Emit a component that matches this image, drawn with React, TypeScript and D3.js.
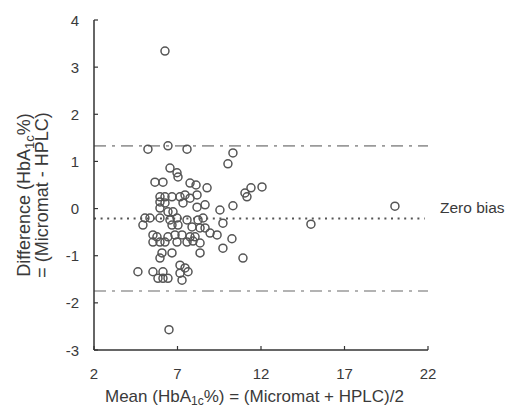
import React from "react";
import * as d3 from "d3";

// Bland–Altman data: mean of the two methods vs. their difference (HbA1c %)
const meanValues = [
  6.25, 5.23, 6.43, 7.57, 10.32, 10.02, 6.55, 6.97, 7.03, 5.65,
  6.13, 7.75, 8.11, 8.77, 5.95, 6.25, 6.67, 7.15, 7.45, 7.75,
  8.17, 5.95, 6.25, 7.33, 8.17, 8.65, 5.95, 6.43, 6.73, 5.05,
  5.35, 5.95, 6.55, 6.97, 7.57, 8.23, 8.53, 4.93, 6.67, 7.03,
  7.87, 8.35, 8.65, 5.53, 5.77, 6.43, 6.85, 7.27, 7.75, 8.05,
  5.53, 5.95, 6.25, 6.97, 7.57, 7.93, 8.35, 6.07, 6.67, 8.35,
  5.95, 4.63, 5.53, 6.13, 7.15, 7.45, 7.15, 7.63, 5.83, 6.13,
  6.43, 7.27, 6.49, 11.04, 11.16, 11.4, 12.06, 10.32, 9.54, 9.72,
  9.37, 10.26, 9.72, 10.92, 14.99, 20.02, 8.95,
];
const diffValues = [
  3.34, 1.26, 1.33, 1.26, 1.18, 0.95, 0.86, 0.76, 0.67, 0.56,
  0.56, 0.54, 0.5, 0.44, 0.25, 0.25, 0.25, 0.25, 0.29, 0.22,
  0.29, 0.14, 0.12, 0.12, 0.03, 0.08, 0.01, -0.07, -0.07, -0.2,
  -0.2, -0.2, -0.24, -0.2, -0.24, -0.24, -0.2, -0.35, -0.35, -0.35,
  -0.39, -0.41, -0.41, -0.56, -0.6, -0.6, -0.56, -0.56, -0.6, -0.6,
  -0.71, -0.71, -0.71, -0.71, -0.71, -0.69, -0.73, -0.94, -0.94, -0.94,
  -1.05, -1.34, -1.34, -1.34, -1.2, -1.26, -1.37, -1.34, -1.48, -1.48,
  -1.48, -1.52, -2.57, 0.33, 0.25, 0.44, 0.46, 0.06, -0.03, -0.31,
  -0.56, -0.64, -0.84, -1.05, -0.33, 0.05, -0.52,
];

const xTicks = [2, 7, 12, 17, 22];
const yTicks = [-3, -2, -1, 0, 1, 2, 3, 4];

const meanBias = -0.21;
const upperLimit = 1.33;
const lowerLimit = -1.75;

const W = 516;
const H = 407;
const FONT = "'Liberation Sans', Arial, Helvetica, sans-serif";
const TEXT = "#3a3a3a";

export default function App() {
  const x = d3.scaleLinear().domain([2, 22]).range([94, 428]);
  const y = d3.scaleLinear().domain([-3, 4]).range([350, 20]);
  const points = d3.zip(meanValues, diffValues);

  return (
    <svg
      width={W}
      height={H}
      style={{ position: "absolute", left: 0, top: 0, background: "#fff" }}
      fontFamily={FONT}
    >
      {/* limits of agreement */}
      {[upperLimit, lowerLimit].map((v) => (
        <line
          key={v}
          x1={x(2)}
          x2={x(22)}
          y1={y(v)}
          y2={y(v)}
          stroke="#9a9a9a"
          strokeWidth={1.6}
          strokeDasharray="12 6 3 6"
        />
      ))}
      {/* mean difference */}
      <line
        x1={x(2)}
        x2={x(21.8)}
        y1={y(meanBias)}
        y2={y(meanBias)}
        stroke="#555"
        strokeWidth={2}
        strokeDasharray="2 4.6"
      />
      <text x={440} y={y(meanBias) - 5} fontSize={15.5} fill={TEXT}>
        Zero bias
      </text>

      {/* data points */}
      {points.map(([m, d], i) => (
        <circle
          key={i}
          cx={x(m)}
          cy={y(d)}
          r={4}
          fill="none"
          stroke="#555"
          strokeWidth={1.5}
        />
      ))}

      {/* axes */}
      <line x1={x(2)} x2={x(2)} y1={y(4)} y2={y(-3)} stroke="#333" strokeWidth={1.5} />
      <line x1={x(2)} x2={x(22)} y1={y(-3)} y2={y(-3)} stroke="#333" strokeWidth={1.5} />
      {yTicks.map((t) => (
        <g key={t}>
          <line x1={x(2)} x2={x(2) + 4} y1={y(t)} y2={y(t)} stroke="#333" strokeWidth={1.2} />
          <text x={79} y={y(t) + 5.5} textAnchor="end" fontSize={15} fill={TEXT}>
            {t}
          </text>
        </g>
      ))}
      {xTicks.map((t) => (
        <g key={t}>
          <line x1={x(t)} x2={x(t)} y1={y(-3)} y2={y(-3) - 4} stroke="#333" strokeWidth={1.2} />
          <text x={x(t)} y={379} textAnchor="middle" fontSize={15} fill={TEXT}>
            {t}
          </text>
        </g>
      ))}

      {/* axis titles */}
      <text x={105} y={402} fontSize={17} fill={TEXT}>
        Mean (HbA
        <tspan fontSize={12} dy={3}>1c</tspan>
        <tspan dy={-3}>%) = (Micromat + HPLC)/2</tspan>
      </text>
      <g transform="translate(30,195) rotate(-90)">
        <text x={0} y={0} textAnchor="middle" fontSize={18} fill={TEXT}>
          Difference (HbA
          <tspan fontSize={13} dy={4}>1c</tspan>
          <tspan dy={-4}>%)</tspan>
        </text>
        <text x={0} y={18} textAnchor="middle" fontSize={18} fill={TEXT}>
          = (Micromat - HPLC)
        </text>
      </g>
    </svg>
  );
}
